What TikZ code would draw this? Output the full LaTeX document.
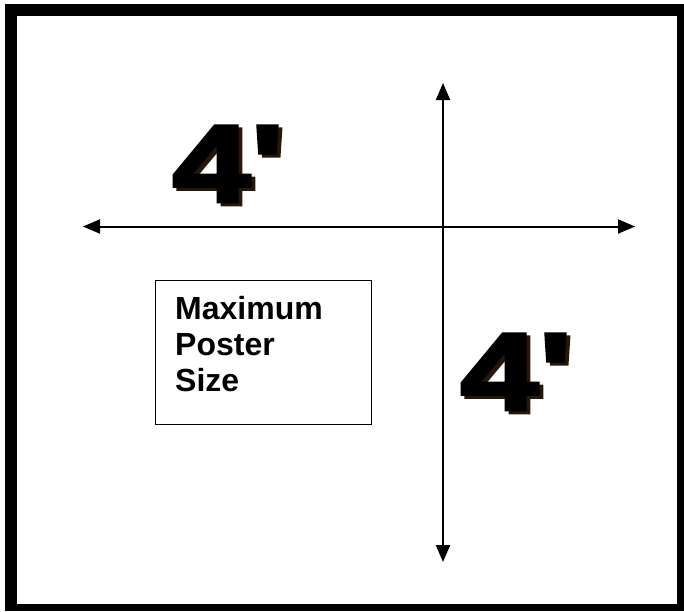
\documentclass[tikz,border=0pt]{standalone}
\usepackage{fontspec}
\setmainfont{Liberation Sans}
\newfontfamily\heavy{Liberation Sans Bold}[FakeBold=2.5]
\usetikzlibrary{arrows.meta}
\definecolor{shadowbrown}{RGB}{40,22,6}
\newcommand{\shadowtext}[1]{\scalebox{1.27}[1]{\makebox[0pt][l]{\hspace{3pt}\raisebox{-3pt}{\color{shadowbrown}#1}}#1}}
\tikzset{
  dimarrow/.style={line width=2pt,{Triangle[length=17pt,width=14pt]}-{Triangle[length=17pt,width=14pt]}},
  bigfour/.style={inner sep=0pt,anchor=base west,font=\heavy\fontsize{111}{111}\selectfont},
  posterbox/.style={draw=black,line width=1.4pt,inner sep=0pt,minimum width=216pt,minimum height=144pt},
  boxtext/.style={inner sep=0pt,anchor=north west,align=left,font=\bfseries\fontsize{32}{36}\selectfont}
}
\begin{document}
\begin{tikzpicture}[x=1pt,y=-1pt]
\useasboundingbox (0,0) rectangle (684,611);
\fill[white] (0,0) rectangle (684,611);
% thick frame
\fill[black] (5,4) rectangle (684,611);
\fill[white] (17,16) rectangle (677,604);
% arrows
\coordinate (hl) at (83,226.5);
\coordinate (hr) at (635,226.5);
\coordinate (vt) at (443,83);
\coordinate (vb) at (443,562);
\draw[dimarrow] (hl) -- (hr);
\draw[dimarrow] (vt) -- (vb);
% 4' labels with shadow
\node[bigfour] (fourA) at (172,202) {\shadowtext{4'}};
\node[bigfour] (fourB) at (460,410) {\shadowtext{4'}};
% box
\node[posterbox,anchor=north west] (box) at (155,280) {};
\node[boxtext] (label) at (175,296) {Maximum\\Poster\\Size};
\end{tikzpicture}
\end{document}
